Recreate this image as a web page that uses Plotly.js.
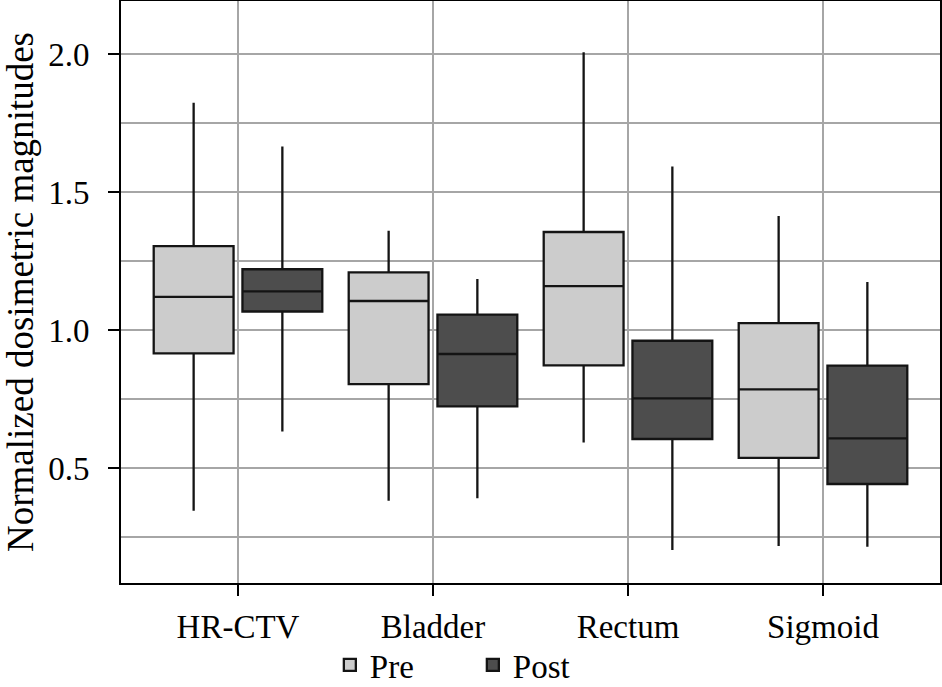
<!DOCTYPE html>
<html>
<head>
<meta charset="utf-8">
<script src="https://cdn.plot.ly/plotly-3.0.1.min.js"></script>
<style>html,body{margin:0;padding:0;background:#fff;}#chart{width:942px;height:687px;}</style>
</head>
<body>
<div id="chart"></div>
<script>
var categories = ["HR-CTV", "Bladder", "Rectum", "Sigmoid"];

var preLower  = [0.345, 0.381, 0.592, 0.217];
var preQ1     = [0.915, 0.804, 0.872, 0.537];
var preMedian = [1.120, 1.105, 1.159, 0.785];
var preQ3     = [1.304, 1.209, 1.355, 1.025];
var preUpper  = [1.823, 1.360, 2.006, 1.413];

var postLower  = [0.632, 0.390, 0.203, 0.215];
var postQ1     = [1.067, 0.723, 0.605, 0.442];
var postMedian = [1.140, 0.913, 0.752, 0.607];
var postQ3     = [1.220, 1.056, 0.961, 0.871];
var postUpper  = [1.665, 1.185, 1.592, 1.174];

var yTickVals = [0.5, 1.0, 1.5, 2.0];
var yTickText = ["0.5", "1.0", "1.5", "2.0"];

var FONT = "Liberation Serif, Times New Roman, serif";
var lineCol = "#141414";

var traces = [
  {
    type: "box", name: "Pre", x: categories,
    lowerfence: preLower, q1: preQ1, median: preMedian, q3: preQ3, upperfence: preUpper,
    fillcolor: "#cccccc", line: {color: lineCol, width: 2.3},
    whiskerwidth: 0, boxpoints: false, hoverinfo: "skip"
  },
  {
    type: "box", name: "Post", x: categories,
    lowerfence: postLower, q1: postQ1, median: postMedian, q3: postQ3, upperfence: postUpper,
    fillcolor: "#4d4d4d", line: {color: lineCol, width: 2.3},
    whiskerwidth: 0, boxpoints: false, hoverinfo: "skip"
  }
];

var gridCol = "#a6a6a6";

var layout = {
  width: 942, height: 687,
  margin: {l: 121, r: 2, t: 1, b: 104, autoexpand: false},
  paper_bgcolor: "#ffffff", plot_bgcolor: "#ffffff",
  font: {family: FONT, size: 33, color: "#000"},
  boxmode: "group", boxgap: 0.09, boxgroupgap: 0.1,
  showlegend: true,
  legend: {
    orientation: "h", x: 0.255, xanchor: "left", y: -0.0928, yanchor: "top",
    font: {family: FONT, size: 33, color: "#000"},
    entrywidth: 98, entrywidthmode: "pixels", bgcolor: "rgba(0,0,0,0)"
  },
  xaxis: {
    type: "category", range: [-0.6, 3.6], autorange: false,
    showgrid: true, gridcolor: gridCol, gridwidth: 2,
    showline: true, mirror: true, linecolor: "#000", linewidth: 2,
    ticks: "outside", ticklen: 11, tickwidth: 2, tickcolor: "#000",
    tickfont: {family: FONT, size: 33, color: "#000"},
    ticklabelstandoff: 2,
    zeroline: false, fixedrange: true, automargin: false
  },
  yaxis: {
    range: [0.0833, 2.192], autorange: false,
    tickvals: yTickVals, ticktext: yTickText,
    showgrid: true, gridcolor: gridCol, gridwidth: 2,
    minor: {dtick: 0.25, tick0: 0, showgrid: true, gridcolor: gridCol, gridwidth: 2, ticks: ""},
    showline: true, mirror: true, linecolor: "#000", linewidth: 2,
    ticks: "outside", ticklen: 11, tickwidth: 2, tickcolor: "#000",
    tickfont: {family: FONT, size: 33, color: "#000"},
    ticklabelstandoff: 12,
    zeroline: false, fixedrange: true, automargin: false,
    title: {text: "Normalized dosimetric magnitudes", font: {family: FONT, size: 37, color: "#000"}, standoff: 38}
  }
};

Plotly.newPlot("chart", traces, layout, {displayModeBar: false, staticPlot: true});
</script>
</body>
</html>
